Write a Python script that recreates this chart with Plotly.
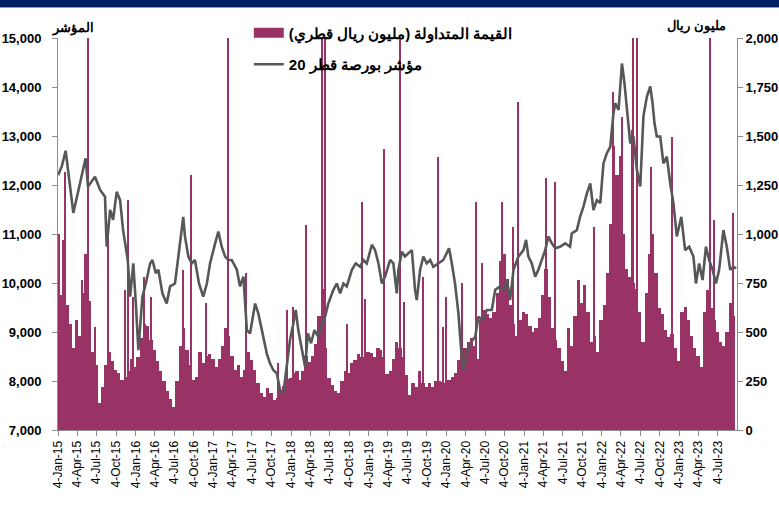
import plotly.graph_objects as go

# ---------------- DATA ----------------
# QE 20 index (left axis)
idx_dates = [
 "2015-01-05","2015-01-23","2015-02-09","2015-03-17","2015-05-14","2015-05-25","2015-06-27","2015-07-21",
 "2015-08-13","2015-08-21","2015-09-06","2015-09-20","2015-10-07","2015-10-23","2015-11-06","2015-11-15",
 "2015-11-28","2015-12-09","2015-12-24","2016-01-05","2016-01-17","2016-02-05","2016-02-21","2016-03-12",
 "2016-03-23","2016-04-08","2016-04-20","2016-05-09","2016-05-29","2016-06-14","2016-07-07","2016-07-23",
 "2016-07-31","2016-08-15","2016-08-23","2016-09-08","2016-09-24","2016-10-09","2016-10-28","2016-11-17",
 "2016-12-04","2016-12-19","2017-01-12","2017-01-27","2017-02-12","2017-02-28","2017-03-15","2017-03-31",
 "2017-04-24","2017-05-09","2017-05-25","2017-06-10","2017-06-25","2017-07-19","2017-08-03","2017-08-19",
 "2017-09-12","2017-09-27","2017-10-13","2017-10-29","2017-11-13","2017-11-29","2017-12-15","2017-12-30",
 "2018-01-15","2018-01-26","2018-02-07","2018-02-26","2018-03-11","2018-03-24","2018-04-08","2018-04-24",
 "2018-05-12","2018-05-28","2018-06-13","2018-06-28","2018-07-22","2018-08-07","2018-08-23","2018-09-07",
 "2018-09-23","2018-10-17","2018-11-04","2018-11-25","2018-12-10","2018-12-26","2019-01-19","2019-02-03",
 "2019-02-19","2019-03-07","2019-03-22","2019-04-15","2019-04-30","2019-05-16","2019-05-24","2019-06-09",
 "2019-06-24","2019-07-10","2019-07-26","2019-08-10","2019-08-18","2019-09-03","2019-09-18","2019-10-04",
 "2019-10-20","2019-11-04","2019-11-28","2019-12-21","2020-01-06","2020-01-17","2020-01-30","2020-02-14",
 "2020-03-01","2020-03-14","2020-03-25","2020-04-09","2020-04-25","2020-05-19","2020-06-03","2020-06-22",
 "2020-07-13","2020-08-05","2020-08-21","2020-09-13","2020-09-29","2020-10-15","2020-10-30","2020-11-15",
 "2020-12-08","2021-01-01","2021-01-13","2021-01-24","2021-02-09","2021-02-25","2021-03-12","2021-03-28",
 "2021-04-13","2021-04-28","2021-05-14","2021-05-30","2021-06-22","2021-07-16","2021-08-08","2021-08-16",
 "2021-09-09","2021-09-24","2021-10-10","2021-10-26","2021-11-11","2021-11-26","2021-12-12","2021-12-28",
 "2022-01-12","2022-01-28","2022-02-13","2022-02-28","2022-03-08","2022-03-24","2022-04-09","2022-04-21",
 "2022-05-02","2022-05-18","2022-06-02","2022-06-18","2022-07-04","2022-07-19","2022-08-04","2022-08-20",
 "2022-08-31","2022-09-09","2022-09-20","2022-10-06","2022-10-21","2022-11-06","2022-11-22","2022-12-07",
 "2022-12-23","2023-01-13","2023-01-31","2023-02-19","2023-03-11","2023-03-23","2023-04-07","2023-04-23",
 "2023-05-09","2023-05-24","2023-06-09","2023-06-25","2023-07-10","2023-07-30","2023-08-15","2023-08-31",
 "2023-09-15","2023-09-28"]
idx_values = [
 12200,12400,12700,11430,12545,11970,12170,11900,
 11760,10740,11490,11290,11860,11690,11080,10810,
 10470,9720,10400,9580,8630,9720,9990,10400,
 10470,10200,10270,9790,9580,9930,9990,10540,
 10810,11350,10950,10540,10400,10470,9990,9720,
 9990,10400,10810,11050,10740,10540,10470,10470,
 10270,9930,10130,9040,8970,9580,9380,9040,
 8560,8360,8220,8160,7820,7750,8360,8840,
 9180,9450,9040,8630,8290,8970,8770,9040,
 8900,9180,9310,9580,9860,9990,9790,9990,
 9930,10270,10400,10330,10470,10400,10780,10670,
 10400,9990,10130,10470,10400,9790,10270,10640,
 10540,10610,10670,9860,9650,10270,10540,10400,
 10470,10330,10400,10470,10610,10710,10400,9990,
 9380,8630,8220,8560,8770,8900,9310,9240,
 9450,9450,9860,9930,9860,10060,9650,10270,
 10540,10670,10880,10540,10400,10130,10270,10470,
 10670,10950,10810,10710,10740,10810,10740,11010,
 11080,11350,11560,11830,12030,11490,11690,11630,
 12440,12650,12780,13460,13670,13530,14480,14070,
 13600,12850,12990,12310,11970,13400,13800,14010,
 13670,13260,12990,12990,12440,12580,12030,11630,
 10950,11350,10670,10740,10540,9990,10400,10060,
 10740,10470,10270,9990,10270,11080,10740,10270,
 10330,10300]

# Traded value (million QAR, right axis), read twice a month (1st and 16th)
tv_2015 = [750,690,660,640,540,420,560,480,700,900,660,400,330,140,220,330,400,350,306,290,255,272,300,360]
tv_2016 = [323,374,470,540,530,460,410,350,300,250,200,160,115,250,430,520,410,330,255,272,400,340,380,390]
tv_2017 = [360,323,360,430,520,480,380,306,330,272,306,400,357,306,240,190,170,215,190,155,165,200,225,260]
tv_2018 = [265,290,300,255,300,380,345,380,440,580,720,420,265,230,200,190,250,300,290,340,357,390,374,374]
tv_2019 = [400,391,374,420,408,370,285,300,360,450,420,370,280,178,238,221,300,240,221,238,221,250,250,245]
tv_2020 = [240,255,272,290,357,500,420,450,470,430,360,560,610,590,570,600,700,860,900,770,640,540,480,560]
tv_2021 = [600,590,530,500,520,570,690,820,680,520,460,420,350,300,520,430,580,765,650,740,600,450,480,400]
tv_2022 = [560,640,800,1050,1450,1300,1400,1000,820,780,750,720,600,450,700,900,1000,800,620,590,510,476,490,420]
tv_2023 = [350,600,630,560,480,420,380,320,600,714,620,560,500,450,430,500,650,580]
tv_years = [2015, 2016, 2017, 2018, 2019, 2020, 2021, 2022, 2023]
tv_series = [tv_2015, tv_2016, tv_2017, tv_2018, tv_2019, tv_2020, tv_2021, tv_2022, tv_2023]

# Single-day peaks in traded value (values above 2,000 run off the chart)
spike_dates = [
 "2015-01-08","2015-01-28","2015-02-06","2015-04-25","2015-05-25","2015-06-27","2015-08-29","2015-11-15",
 "2015-11-28","2015-12-24","2016-02-14","2016-03-16","2016-08-13","2016-09-21","2016-11-29","2017-03-14",
 "2017-06-05","2017-11-05","2017-12-15","2018-01-15","2018-03-16","2018-05-28","2018-06-13","2018-09-23",
 "2018-12-03","2018-12-18","2019-03-18","2019-05-30","2019-06-21","2019-09-18","2019-11-28","2019-12-21",
 "2020-01-03","2020-03-17","2020-05-22","2020-06-22","2020-09-24","2020-11-12","2020-12-04","2021-04-16",
 "2021-05-30","2021-12-01","2022-02-28","2022-04-09","2022-05-26","2022-06-02","2022-06-18","2022-08-24",
 "2022-11-30","2023-05-29","2023-06-14","2023-09-13"]
spike_values = [
 1000,970,1318,765,2300,527,986,714,
 1173,680,782,680,816,1300,646,2400,
 800,340,612,630,1045,2200,2600,540,
 1164,666,1436,2300,655,782,1394,527,
 680,748,1164,850,1164,1037,1675,1284,
 1266,1037,1725,1598,1530,2300,2200,1343,
 1496,2300,1071,1105]

# ---------------- BUILD ----------------
tv_dates, tv_values = [], []
for yr, vals in zip(tv_years, tv_series):
    k = 0
    for m in range(1, 13):
        for d in (1, 16):
            if k < len(vals):
                tv_dates.append(f"{yr}-{m:02d}-{d:02d}")
                tv_values.append(vals[k])
            k += 1

tick_vals = [f"{y}-{m:02d}-04" for y in range(2015, 2024) for m in (1, 4, 7, 10)
             if not (y == 2023 and m == 10)]

BAR = "#993366"
LINE = "#575757"
FONT = "Liberation Sans, Arial, sans-serif"
DAY = 86400000
BAR_NAME = "\u202bالقيمة المتداولة (مليون ريال قطري)\u202c"
LINE_NAME = "\u202bمؤشر بورصة قطر 20\u202c"

fig = go.Figure()
fig.add_trace(go.Bar(
    x=tv_dates, y=tv_values, width=[16 * DAY] * len(tv_dates),
    marker=dict(color=BAR, line=dict(width=0)),
    name=BAR_NAME, showlegend=False, legendgroup="a", yaxis="y"))
fig.add_trace(go.Bar(
    x=spike_dates, y=spike_values, width=[5 * DAY] * len(spike_dates),
    marker=dict(color=BAR, line=dict(width=0)),
    name=BAR_NAME, showlegend=False, legendgroup="a", yaxis="y"))
# legend key for the bars (wide block, as in the original)
fig.add_trace(go.Scatter(
    x=[None], y=[None], mode="lines", line=dict(color=BAR, width=10),
    name=BAR_NAME, legendgroup="a", yaxis="y"))
fig.add_trace(go.Scatter(
    x=idx_dates, y=idx_values, mode="lines",
    line=dict(color=LINE, width=2.6),
    name=LINE_NAME, legendgroup="b", yaxis="y2"))

axis_line = "#8c8c8c"
fig.update_layout(
    width=779, height=513,
    margin=dict(l=58, r=42, t=38, b=83, autoexpand=False),
    paper_bgcolor="white", plot_bgcolor="white",
    barmode="overlay", bargap=0,
    font=dict(family=FONT, color="black"),
    showlegend=True,
    legend=dict(x=0.281, y=1.055, xanchor="left", yanchor="top",
                bgcolor="rgba(0,0,0,0)", tracegroupgap=9,
                font=dict(size=15, family=FONT, color="black", weight="bold")),
    xaxis=dict(type="date", range=["2015-01-04", "2023-10-02"],
               tickvals=tick_vals, tickformat="%-d-%b-%y", tickangle=-90,
               tickfont=dict(size=12, family=FONT, color="black"),
               showline=True, linecolor=axis_line, linewidth=1,
               ticks="outside", ticklen=5, tickcolor=axis_line,
               showgrid=False, zeroline=False, automargin=False),
    yaxis=dict(side="right", range=[0, 2000], dtick=250, tickformat=",",
               tickfont=dict(size=13, family=FONT, color="black", weight="bold"),
               showline=True, linecolor=axis_line, linewidth=1,
               ticks="outside", ticklen=5, tickcolor=axis_line,
               showgrid=False, zeroline=False, automargin=False),
    yaxis2=dict(side="left", overlaying="y", range=[7000, 15000], dtick=1000, tickformat=",",
                tickfont=dict(size=13, family=FONT, color="black", weight="bold"),
                showline=True, linecolor=axis_line, linewidth=1,
                ticks="outside", ticklen=5, tickcolor=axis_line, ticklabelstandoff=8,
                showgrid=False, zeroline=False, automargin=False),
    shapes=[
        dict(type="rect", xref="paper", yref="paper", x0=-0.1, x1=1.1,
             y0=1 + 31 / 392, y1=1 + 40 / 392, fillcolor="#002060", line=dict(width=0)),
        dict(type="line", xref="paper", yref="paper", x0=-0.1, x1=1.1,
             y0=1 + 30.5 / 392, y1=1 + 30.5 / 392, line=dict(color="#9a9a9a", width=1)),
    ],
    annotations=[
        dict(text="المؤشر", xref="paper", yref="paper", x=(73 - 58) / 679, y=1 + 10 / 392,
             showarrow=False, xanchor="center", yanchor="middle",
             font=dict(size=13, family=FONT, color="black", weight="bold")),
        dict(text="مليون ريال", xref="paper", yref="paper", x=(696 - 58) / 679, y=1 + 12 / 392,
             showarrow=False, xanchor="center", yanchor="middle",
             font=dict(size=13, family=FONT, color="black", weight="bold")),
    ],
)

fig.write_html("out.html",
               config={"displayModeBar": False},
               post_script="document.body.style.margin='0';document.body.style.overflow='hidden';")
